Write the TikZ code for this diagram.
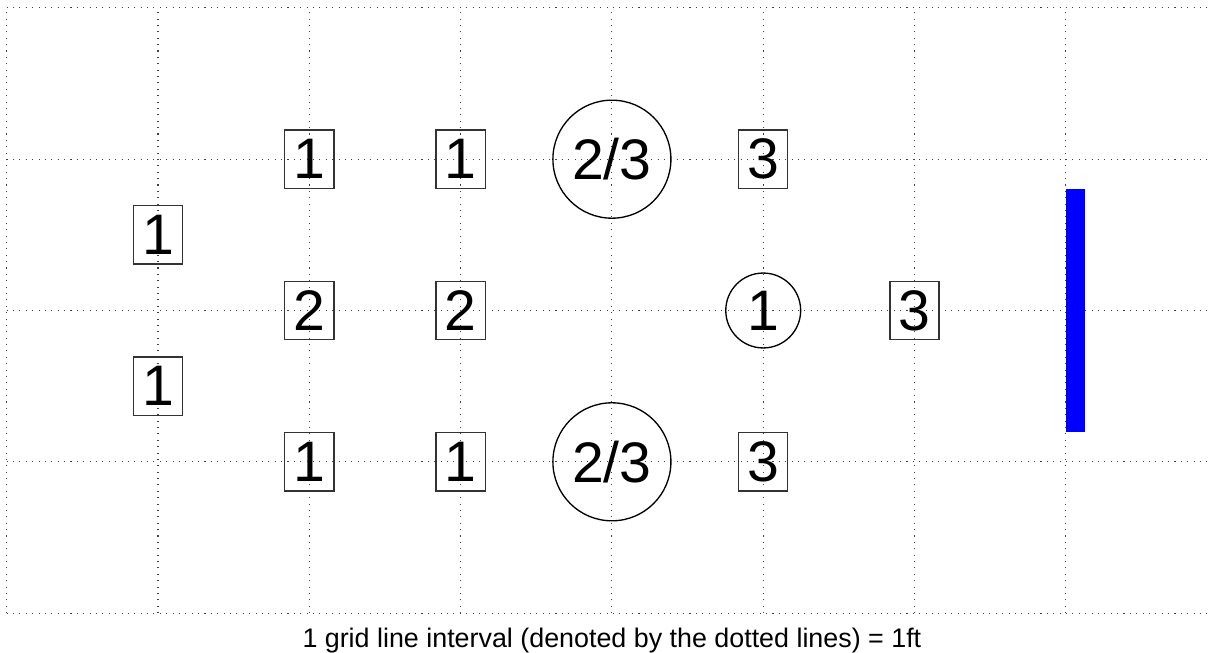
\documentclass[tikz,border=0pt]{standalone}
\usepackage{fontspec}
\setmainfont{Liberation Sans}
\usepackage{tikz}
\usetikzlibrary{positioning}

\begin{document}
\begin{tikzpicture}[x=2cm,y=2cm,
  gridline/.style={dotted,black!75,line width=0.4pt},
  seatbox/.style={draw=black!80,line width=0.5pt,inner sep=0pt,minimum width=0.65cm,minimum height=0.77cm,font=\fontsize{21.5}{24}\selectfont},
  bigring/.style={circle,draw,line width=0.5pt,inner sep=0pt,minimum size=1.56cm,font=\fontsize{21.5}{24}\selectfont},
  smallring/.style={circle,draw,line width=0.5pt,inner sep=0pt,minimum size=0.99cm,font=\fontsize{21.5}{24}\selectfont}]
  \useasboundingbox (-0.044,-0.258) rectangle (7.966,4.052);
  \draw[gridline,step=1] (0,0) grid (7.97,4);
  % left column
  \node[seatbox] (l1) at (1,2.5) {1};
  \node[seatbox] (l2) at (1,1.5) {1};
  % top row
  \node[seatbox] (t1) at (2,3) {1};
  \node[seatbox] (t2) at (3,3) {1};
  \node[bigring] (tr) at (4,3) {2/3};
  \node[seatbox] (t3) at (5,3) {3};
  % middle row
  \node[seatbox] (m1) at (2,2) {2};
  \node[seatbox] (m2) at (3,2) {2};
  \node[smallring] (mr) at (5,2) {1};
  \node[seatbox] (m3) at (6,2) {3};
  % bottom row
  \node[seatbox] (b1) at (2,1) {1};
  \node[seatbox] (b2) at (3,1) {1};
  \node[bigring] (br) at (4,1) {2/3};
  \node[seatbox] (b3) at (5,1) {3};
  % wall
  \fill[blue] (7,1.2) rectangle (7.126,2.8);
  \node[anchor=base,font=\fontsize{10.1}{12}\selectfont] (note) at (4,-0.229) {1 grid line interval (denoted by the dotted lines) = 1ft};
\end{tikzpicture}
\end{document}
